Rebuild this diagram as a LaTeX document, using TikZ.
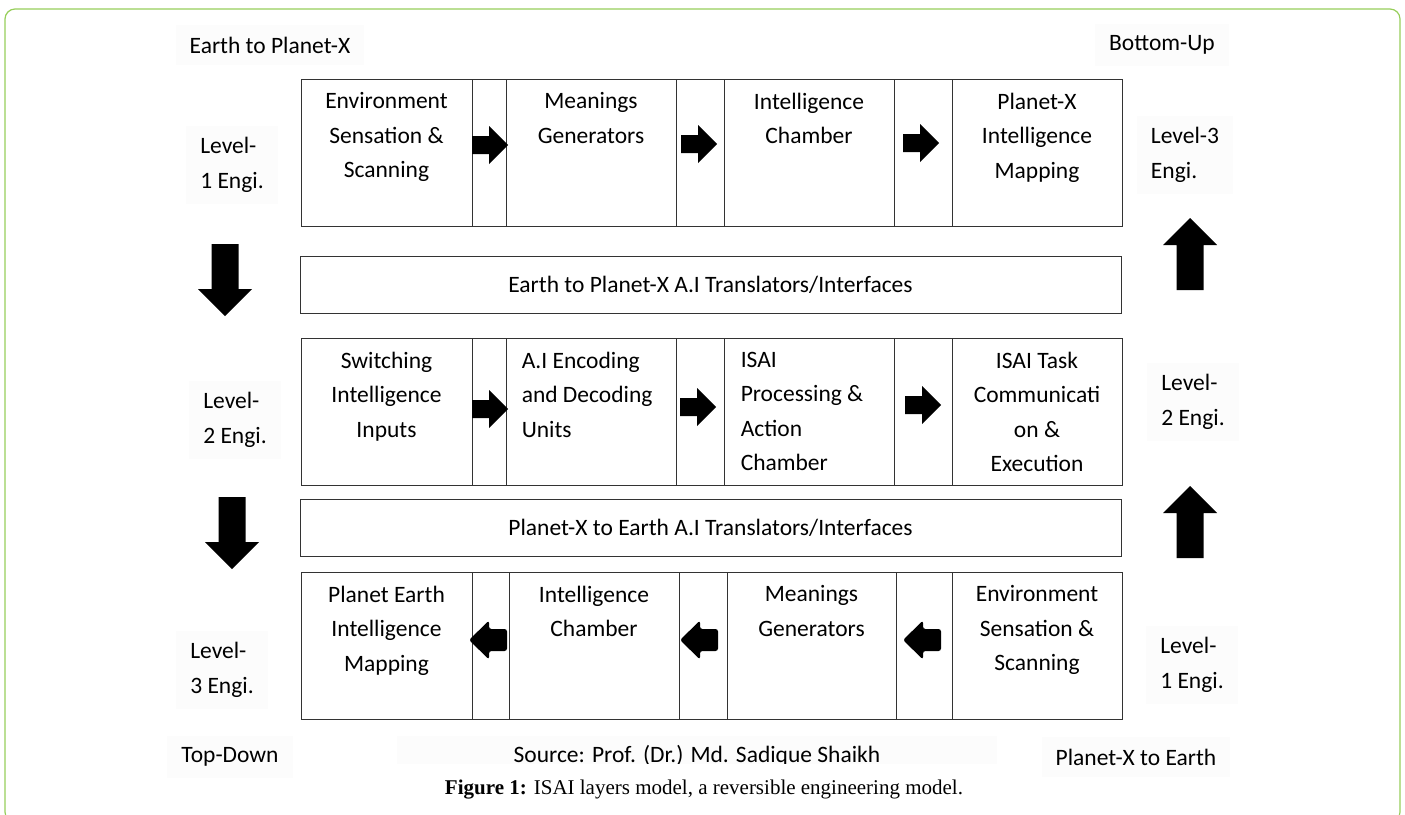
\documentclass[tikz,border=0pt]{standalone}
\usepackage{fontspec}
\setmainfont{Carlito}
\newfontfamily\capfont{Liberation Serif}
\usetikzlibrary{positioning}
\definecolor{framegreen}{RGB}{150,206,90}

\tikzset{
  cell/.style={draw=black!80, line width=0.9pt, inner sep=0pt},
  celltext/.style={align=center, inner sep=0pt},
  lvl/.style={fill=black!1, align=left, inner xsep=14pt, inner ysep=12pt},
  hsarrow/.pic={\fill (0,-9) -- (17,-9) -- (17,-19) -- (36,0) -- (17,19) -- (17,9) -- (0,9) -- cycle;},
  hrarrow/.pic={\fill[rounded corners=2.5pt] (0,-11) -- (18,-11) -- (18,-19.5) -- (38,0) -- (18,19.5) -- (18,11) -- (0,11) -- cycle;},
  vbarrow/.pic={\fill (0,-13.5) -- (45,-13.5) -- (45,-27) -- (72,0) -- (45,27) -- (45,13.5) -- (0,13.5) -- cycle;}
}

\begin{document}
\begin{tikzpicture}[x=1pt, y=-1pt, font=\fontsize{23.5}{34.5}\selectfont]
\useasboundingbox (0,0) rectangle (1405,814);
\begin{scope}
\clip (0,0) rectangle (1405,814);
\draw[framegreen, line width=1.2pt, rounded corners=10pt] (5,9) rectangle (1400,822);
\end{scope}

% the three rows of chambers
\foreach \a/\b/\n in {301/472/a,472/506/ab,506/676/b,676/724/bc,724/894/c,894/952/cd,952/1122/d}
{
    \node[cell, minimum width={(\b-\a)*1pt}, minimum height=147pt] (u\n) at ({(\a+\b)/2},152.5) {};
    \node[cell, minimum width={(\b-\a)*1pt}, minimum height=147pt] (m\n) at ({(\a+\b)/2},411.5) {};
}
\foreach \a/\b/\n in {301/472/a,472/509/ab,509/679/b,679/727/bc,727/896/c,896/952/cd,952/1122/d}
    \node[cell, minimum width={(\b-\a)*1pt}, minimum height=147pt] (l\n) at ({(\a+\b)/2},645.5) {};

\node[cell, minimum width=821pt, minimum height=57pt] (upbar) at (710.5,284.5) {Earth to Planet-X A.I Translators/Interfaces};
\node[cell, minimum width=821pt, minimum height=57pt] (downbar) at (710.5,527.5) {Planet-X to Earth A.I Translators/Interfaces};

\node[celltext, below=14pt of ua.north] (ta) {Environment\\Sensation \&\\Scanning};
\node[celltext, below=14pt of ub.north] (tb) {Meanings\\Generators};
\node[celltext, below=14pt of uc.north] (tc) {Intelligence\\Chamber};
\node[celltext, below=14pt of ud.north] (td) {Planet-X\\Intelligence\\Mapping};

\node[celltext, below=14pt of ma.north] (sa) {Switching\\Intelligence\\Inputs};
\node[celltext, align=left, below right=14pt and 16pt of mb.north west] (sb) {A.I Encoding\\and Decoding\\Units};
\node[celltext, align=left, below right=14pt and 17pt of mc.north west] (sc) {ISAI\\Processing \&\\Action\\Chamber};
\node[celltext, below=14pt of md.north] (sd) {ISAI Task\\Communicati\\on \&\\Execution};

\node[celltext, below=14pt of la.north] (pa) {Planet Earth\\Intelligence\\Mapping};
\node[celltext, below=14pt of lb.north] (pb) {Intelligence\\Chamber};
\node[celltext, below=14pt of lc.north] (pc) {Meanings\\Generators};
\node[celltext, below=14pt of ld.north] (pd) {Environment\\Sensation \&\\Scanning};

% block arrows
\foreach \x/\y in {472/145,681/144,903/143,472/409,680/407,905/405}
    \pic at (\x,\y) {hsarrow};
\foreach \x in {507,718,941}
    \pic[rotate=180] at (\x,640) {hrarrow};
\pic[rotate=-90] at (225,244) {vbarrow};
\pic[rotate=-90] at (232,497) {vbarrow};
\pic[rotate=90] at (1190,290) {vbarrow};
\pic[rotate=90] at (1190,558) {vbarrow};

% level labels
\node[lvl] (lvlL1) at (232,165) {Level-\\1 Engi.};
\node[lvl] (lvlL2) at (235,420) {Level-\\2 Engi.};
\node[lvl] (lvlL3) at (222,670) {Level-\\3 Engi.};
\node[lvl] (lvlR3) at (1185,155) {Level-3\\Engi.};
\node[lvl] (lvlR2) at (1193,402) {Level-\\2 Engi.};
\node[lvl] (lvlR1) at (1192,665) {Level-\\1 Engi.};

\node[lvl] (etop) at (270,45) {Earth to Planet-X};
\node[lvl] (bup) at (1162,45) {Bottom-Up};
\node[lvl] (tdown) at (230,757) {Top-Down};
\node[lvl] (pbot) at (1136,757) {Planet-X to Earth};
\begin{scope}
\clip (380,735) rectangle (1010,763);
\node[fill=black!1, minimum width=600pt, minimum height=40pt] (src) at (697,756) {Source: Prof. (Dr.) Md. Sadique Shaikh};
\end{scope}

\node (cap) at (704,790) {\capfont\fontsize{21}{24}\selectfont\textbf{Figure 1:} ISAI layers model, a reversible engineering model.};
\end{tikzpicture}
\end{document}
